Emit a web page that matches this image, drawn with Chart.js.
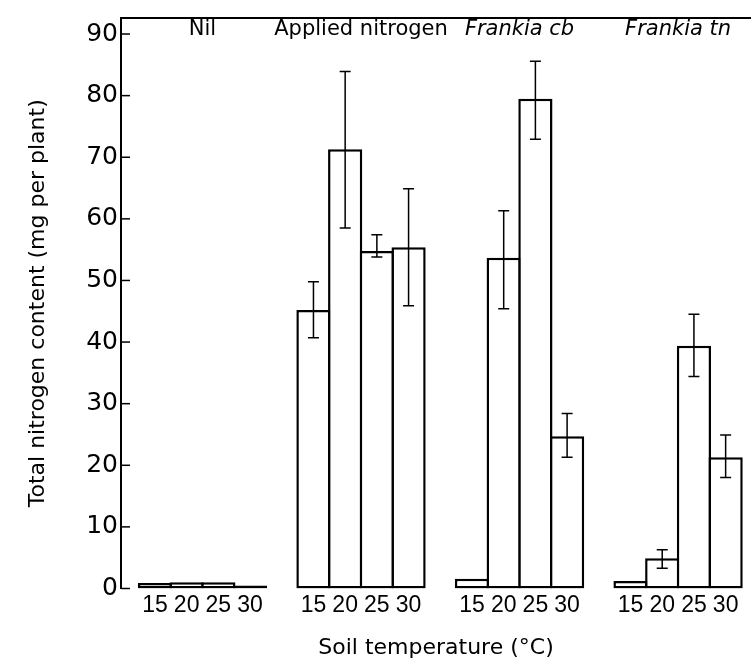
<!DOCTYPE html>
<html>
<head>
<meta charset="utf-8">
<script src="https://cdn.jsdelivr.net/npm/chart.js@4"></script>
<style>
  html, body { margin: 0; padding: 0; background: #fff; }
  #wrap { width: 751px; height: 659px; }
</style>
</head>
<body>
<div id="wrap"><canvas id="nitrogenChart" width="751" height="659"></canvas></div>
<script>
// Treatments and soil temperatures
const groups = ["Nil", "Applied nitrogen", "Frankia cb", "Frankia tn"];
const italicGroups = [false, false, true, true];
const temps = ["15", "20", "25", "30"];
const yTicks = [0, 10, 20, 30, 40, 50, 60, 70, 80, 90];

// Total nitrogen content (mg per plant) at 15, 20, 25, 30 °C
const nilN = [0.9, 1.0, 1.0, 0.5];
const appliedN = [45.2, 71.3, 54.8, 55.4];
const cbN = [1.6, 53.7, 79.5, 24.7];
const tnN = [1.2, 4.9, 39.4, 21.3];

// Error bar ends (null = no bar drawn)
const nilLo = [null, null, null, null];
const nilHi = [null, null, null, null];
const appliedLo = [40.7, 58.5, 53.8, 45.9];
const appliedHi = [49.8, 83.9, 57.4, 64.9];
const cbLo = [null, 45.4, 72.9, 21.3];
const cbHi = [null, 61.3, 85.6, 28.4];
const tnLo = [null, 3.3, 34.4, 18.0];
const tnHi = [null, 6.3, 44.5, 24.9];

const values = [nilN, appliedN, cbN, tnN];
const lows = [nilLo, appliedLo, cbLo, tnLo];
const highs = [nilHi, appliedHi, cbHi, tnHi];

// each group takes 4 slots + 1 empty slot on a linear x axis
const SLOTS = 5;
const points = [];
const errs = [];
values.forEach((arr, g) => {
  arr.forEach((v, i) => {
    points.push({ x: g * SLOTS + i, y: v });
    errs.push({ x: g * SLOTS + i, lo: lows[g][i], hi: highs[g][i] });
  });
});
const xPositions = points.map(p => p.x);

const axisFont = "'DejaVu Sans', sans-serif";

// Box top and inward y ticks
const framePlugin = {
  id: "frame",
  afterDraw(chart) {
    const { ctx, chartArea, scales } = chart;
    ctx.save();
    ctx.strokeStyle = "#000";
    ctx.lineWidth = 2;
    ctx.beginPath();
    ctx.moveTo(chartArea.left - 1, chartArea.top);
    ctx.lineTo(chartArea.right, chartArea.top);
    ctx.stroke();
    ctx.lineWidth = 1.5;
    yTicks.forEach(t => {
      const y = scales.y.getPixelForValue(t);
      ctx.beginPath();
      ctx.moveTo(chartArea.left, y);
      ctx.lineTo(chartArea.left + 9, y);
      ctx.stroke();
    });
    ctx.restore();
  }
};

const errorBarPlugin = {
  id: "errorBars",
  afterDatasetsDraw(chart) {
    const { ctx, scales } = chart;
    ctx.save();
    ctx.strokeStyle = "#000";
    ctx.lineWidth = 1.5;
    errs.forEach(e => {
      if (e.lo == null || e.hi == null) return;
      const x = scales.x.getPixelForValue(e.x);
      const yLo = scales.y.getPixelForValue(e.lo);
      const yHi = scales.y.getPixelForValue(e.hi);
      ctx.beginPath();
      ctx.moveTo(x, yLo);
      ctx.lineTo(x, yHi);
      ctx.moveTo(x - 5.5, yLo);
      ctx.lineTo(x + 5.5, yLo);
      ctx.moveTo(x - 5.5, yHi);
      ctx.lineTo(x + 5.5, yHi);
      ctx.stroke();
    });
    ctx.restore();
  }
};

const groupLabelPlugin = {
  id: "groupLabels",
  afterDraw(chart) {
    const { ctx, scales } = chart;
    ctx.save();
    ctx.fillStyle = "#000";
    ctx.textAlign = "center";
    ctx.textBaseline = "middle";
    groups.forEach((name, g) => {
      const x = scales.x.getPixelForValue(g * SLOTS + 1.5);
      ctx.font = (italicGroups[g] ? "italic " : "") + "21px " + axisFont;
      ctx.fillText(name, x, 30);
    });
    ctx.restore();
  }
};

new Chart(document.getElementById("nitrogenChart"), {
  type: "bar",
  data: {
    datasets: [{
      data: points,
      backgroundColor: "#fff",
      borderColor: "#000",
      borderWidth: 2.5,
      borderSkipped: false,
      barPercentage: 1.079,
      categoryPercentage: 1
    }]
  },
  options: {
    responsive: false,
    animation: false,
    devicePixelRatio: 1,
    layout: { padding: { top: 6, left: 0, right: 0, bottom: 0 } },
    plugins: {
      legend: { display: false },
      tooltip: { enabled: false }
    },
    scales: {
      x: {
        type: "linear",
        min: -1.07,
        max: 18.8,
        offset: false,
        grid: { display: false, drawTicks: false },
        border: { display: false },
        afterBuildTicks: s => { s.ticks = xPositions.map(v => ({ value: v })); },
        afterFit: s => { s.height = 70.5; },
        ticks: {
          autoSkip: false,
          maxRotation: 0,
          padding: 3,
          color: "#000",
          font: { family: "'Liberation Sans Narrow', 'Liberation Sans', sans-serif", size: 23 },
          callback: v => temps[v % SLOTS]
        },
        title: {
          display: true,
          text: "Soil temperature (°C)",
          color: "#000",
          font: { family: axisFont, size: 22, lineHeight: 1 },
          padding: { top: 0, bottom: 0 }
        }
      },
      y: {
        min: 0,
        max: 92.6,
        grid: { display: false, drawTicks: false },
        border: { display: true, width: 2, color: "#000" },
        afterBuildTicks: s => { s.ticks = yTicks.map(v => ({ value: v })); },
        afterFit: s => { s.width = 121; },
        ticks: {
          padding: 3,
          color: "#000",
          font: { family: axisFont, size: 25 }
        },
        title: {
          display: true,
          text: "Total nitrogen content (mg per plant)",
          color: "#000",
          font: { family: axisFont, size: 22, lineHeight: 1 },
          padding: { top: 27, bottom: 0 }
        }
      }
    }
  },
  plugins: [framePlugin, errorBarPlugin, groupLabelPlugin]
});
</script>
</body>
</html>
